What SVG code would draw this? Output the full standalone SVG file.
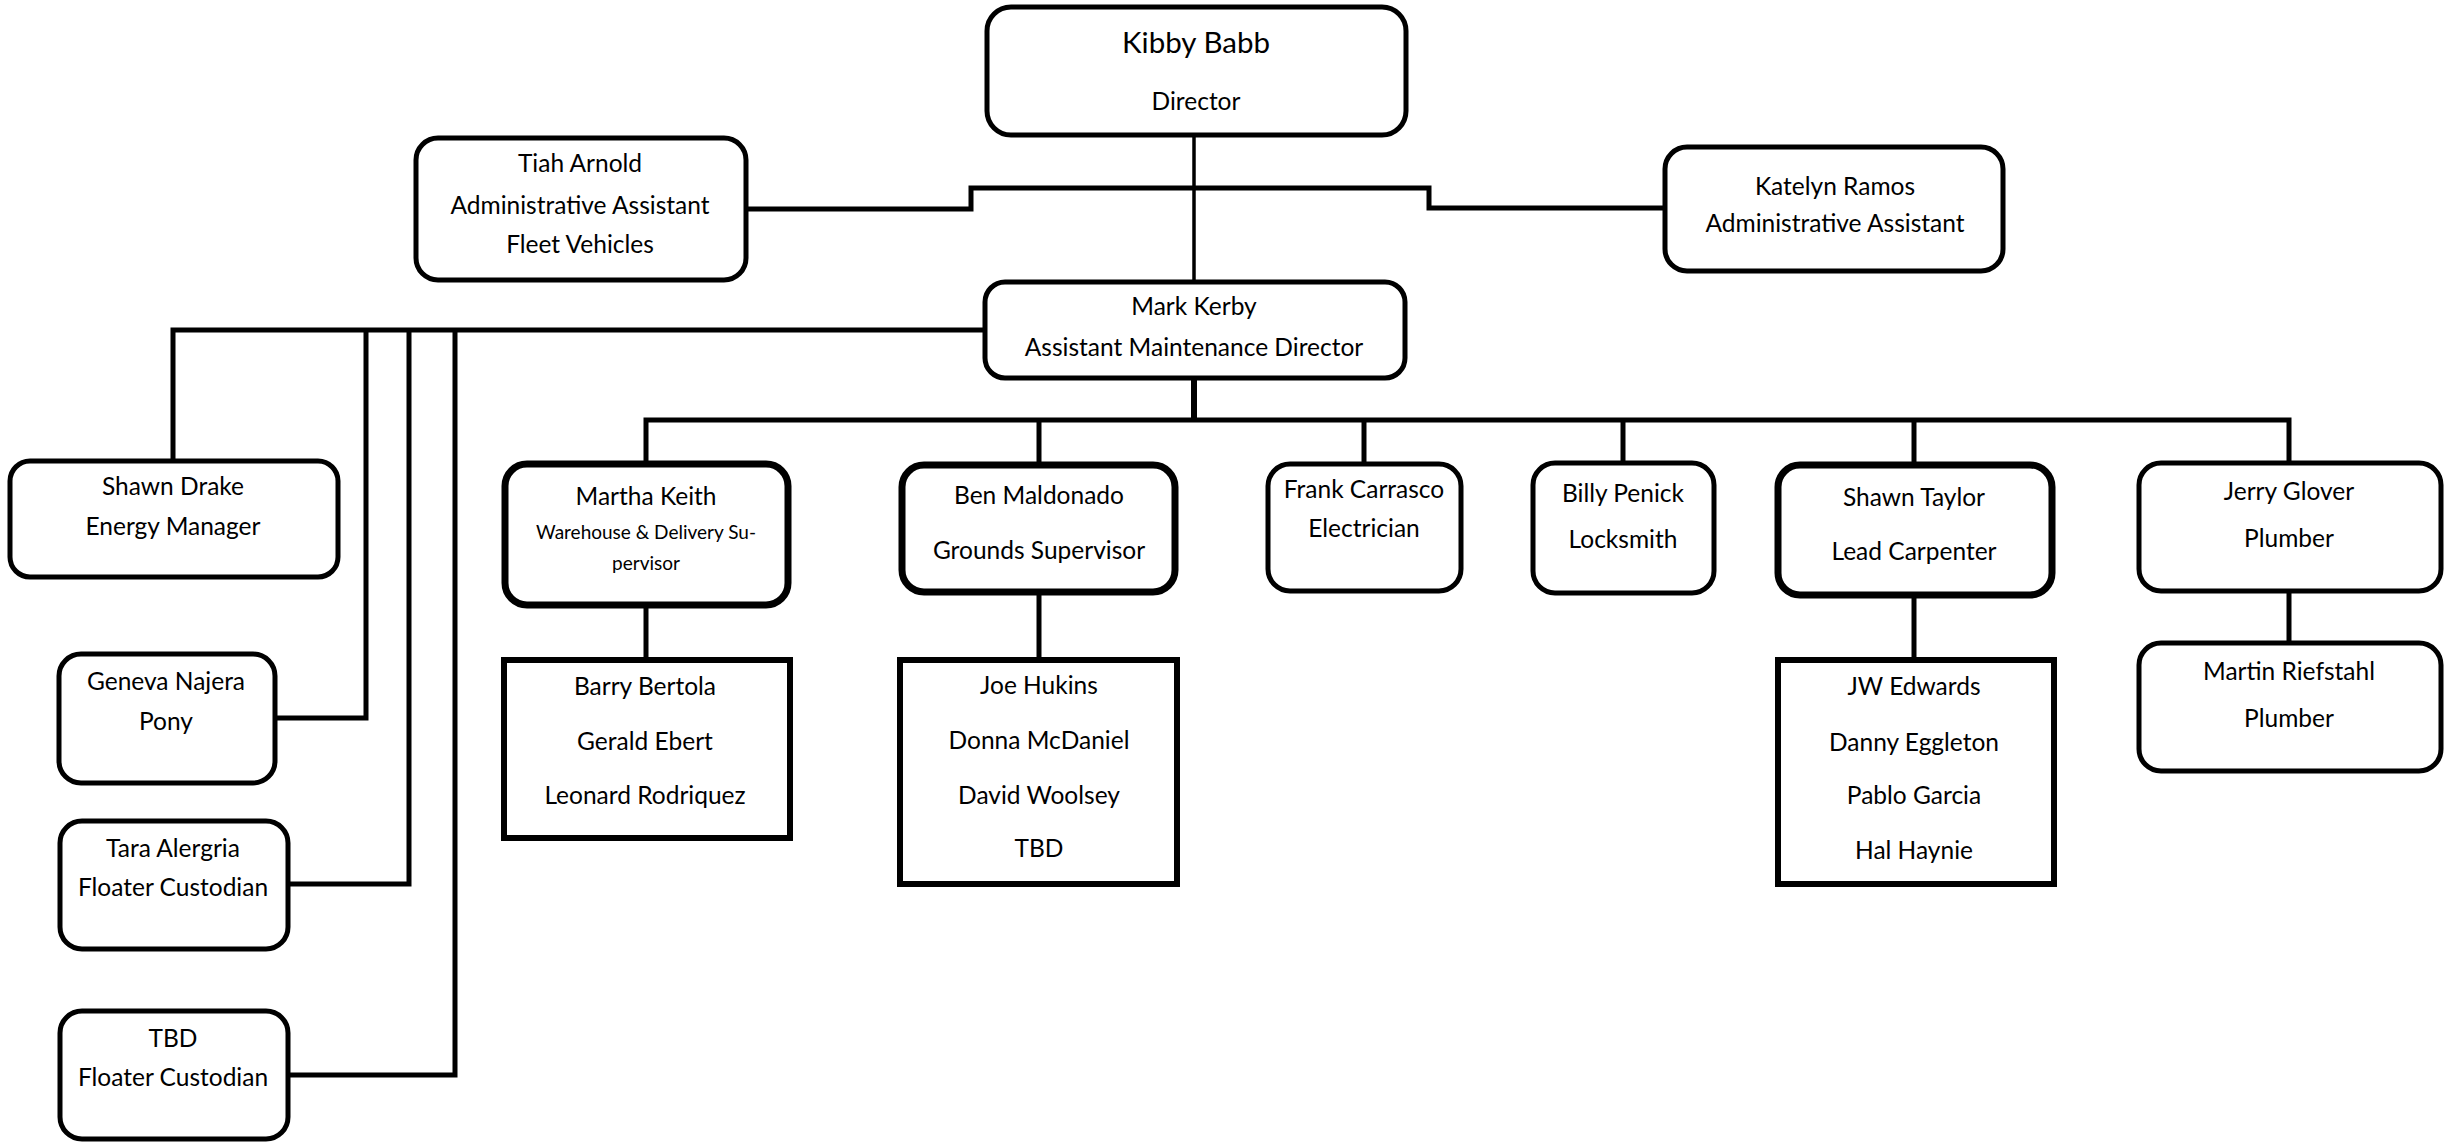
<svg xmlns="http://www.w3.org/2000/svg" width="2444" height="1143" viewBox="0 0 2444 1143">
  <style>
    .box { fill: #ffffff; stroke: #000000; stroke-width: 5; }
    .bold { stroke-width: 7; }
    .sq { fill: #ffffff; stroke: #000000; stroke-width: 6; }
    .wire { fill: none; stroke: #000000; stroke-width: 5; stroke-linejoin: miter; }
    text { font-family: Lato, "Open Sans", "Liberation Sans", sans-serif; font-size: 24.5px; fill: #000000; text-anchor: middle; }
    .big { font-size: 29.5px; }
    .small { font-size: 19px; }
  </style>
  <rect width="2444" height="1143" fill="#ffffff"/>

  <!-- reporting lines -->
  <g id="connectors">
    <path class="wire" d="M1194,135 V282" style="stroke-width:3.5"/>
    <path class="wire" d="M746,209 H971 V188 H1429 V208 H1665"/>
    <path class="wire" d="M985,330 H173 V461"/>
    <path class="wire" d="M366,330 V718 H275"/>
    <path class="wire" d="M409,330 V884 H288"/>
    <path class="wire" d="M455,330 V1075 H288"/>
    <path class="wire" d="M1194,378 V420" style="stroke-width:6"/>
    <path class="wire" d="M646,464 V420 H2289 V463"/>
    <path class="wire" d="M1039,420 V465"/>
    <path class="wire" d="M1364,420 V464"/>
    <path class="wire" d="M1623,420 V463"/>
    <path class="wire" d="M1914,420 V465"/>
    <path class="wire" d="M646,605 V660"/>
    <path class="wire" d="M1039,592 V660"/>
    <path class="wire" d="M1914,595 V660"/>
    <path class="wire" d="M2289,591 V643"/>
  </g>

  <g id="kibby-babb">
    <rect class="box" x="987" y="7" width="419" height="128" rx="24"/>
    <text class="big" x="1196" y="53">Kibby Babb</text>
    <text x="1196" y="110">Director</text>
  </g>

  <g id="tiah-arnold">
    <rect class="box" x="416" y="138" width="330" height="142" rx="22"/>
    <text x="580" y="172">Tiah Arnold</text>
    <text x="580" y="214">Administrative Assistant</text>
    <text x="580" y="253">Fleet Vehicles</text>
  </g>

  <g id="katelyn-ramos">
    <rect class="box" x="1665" y="147" width="338" height="124" rx="22"/>
    <text x="1835" y="195">Katelyn Ramos</text>
    <text x="1835" y="232">Administrative Assistant</text>
  </g>

  <g id="mark-kerby">
    <rect class="box" x="985" y="282" width="420" height="96" rx="20"/>
    <text x="1194" y="315">Mark Kerby</text>
    <text x="1194" y="356">Assistant Maintenance Director</text>
  </g>

  <g id="shawn-drake">
    <rect class="box" x="10" y="461" width="328" height="116" rx="20"/>
    <text x="173" y="495">Shawn Drake</text>
    <text x="173" y="535">Energy Manager</text>
  </g>

  <g id="geneva-najera">
    <rect class="box" x="59" y="654" width="216" height="129" rx="22"/>
    <text x="166" y="690">Geneva Najera</text>
    <text x="166" y="730">Pony</text>
  </g>

  <g id="tara-alergria">
    <rect class="box" x="60" y="821" width="228" height="128" rx="22"/>
    <text x="173" y="857">Tara Alergria</text>
    <text x="173" y="896">Floater Custodian</text>
  </g>

  <g id="tbd-custodian">
    <rect class="box" x="60" y="1011" width="228" height="128" rx="22"/>
    <text x="173" y="1047">TBD</text>
    <text x="173" y="1086">Floater Custodian</text>
  </g>

  <g id="martha-keith">
    <rect class="box bold" x="505" y="464" width="283" height="141" rx="22"/>
    <text x="646" y="505">Martha Keith</text>
    <text class="small" x="646" y="539">Warehouse &amp; Delivery Su-</text>
    <text class="small" x="646" y="570">pervisor</text>
  </g>

  <g id="warehouse-staff">
    <rect class="sq" x="504" y="660" width="286" height="178"/>
    <text x="645" y="695">Barry Bertola</text>
    <text x="645" y="750">Gerald Ebert</text>
    <text x="645" y="804">Leonard Rodriquez</text>
  </g>

  <g id="ben-maldonado">
    <rect class="box bold" x="902" y="465" width="273" height="127" rx="22"/>
    <text x="1039" y="504">Ben Maldonado</text>
    <text x="1039" y="559">Grounds Supervisor</text>
  </g>

  <g id="grounds-staff">
    <rect class="sq" x="900" y="660" width="277" height="224"/>
    <text x="1039" y="694">Joe Hukins</text>
    <text x="1039" y="749">Donna McDaniel</text>
    <text x="1039" y="804">David Woolsey</text>
    <text x="1039" y="857">TBD</text>
  </g>

  <g id="frank-carrasco">
    <rect class="box" x="1268" y="464" width="193" height="127" rx="22"/>
    <text x="1364" y="498">Frank Carrasco</text>
    <text x="1364" y="537">Electrician</text>
  </g>

  <g id="billy-penick">
    <rect class="box" x="1533" y="463" width="181" height="130" rx="22"/>
    <text x="1623" y="502">Billy Penick</text>
    <text x="1623" y="548">Locksmith</text>
  </g>

  <g id="shawn-taylor">
    <rect class="box bold" x="1778" y="465" width="274" height="130" rx="22"/>
    <text x="1914" y="506">Shawn Taylor</text>
    <text x="1914" y="560">Lead Carpenter</text>
  </g>

  <g id="carpentry-staff">
    <rect class="sq" x="1778" y="660" width="276" height="224"/>
    <text x="1914" y="695">JW Edwards</text>
    <text x="1914" y="751">Danny Eggleton</text>
    <text x="1914" y="804">Pablo Garcia</text>
    <text x="1914" y="859">Hal Haynie</text>
  </g>

  <g id="jerry-glover">
    <rect class="box" x="2139" y="463" width="302" height="128" rx="22"/>
    <text x="2289" y="500">Jerry Glover</text>
    <text x="2289" y="547">Plumber</text>
  </g>

  <g id="martin-riefstahl">
    <rect class="box" x="2139" y="643" width="302" height="128" rx="22"/>
    <text x="2289" y="680">Martin Riefstahl</text>
    <text x="2289" y="727">Plumber</text>
  </g>
</svg>
